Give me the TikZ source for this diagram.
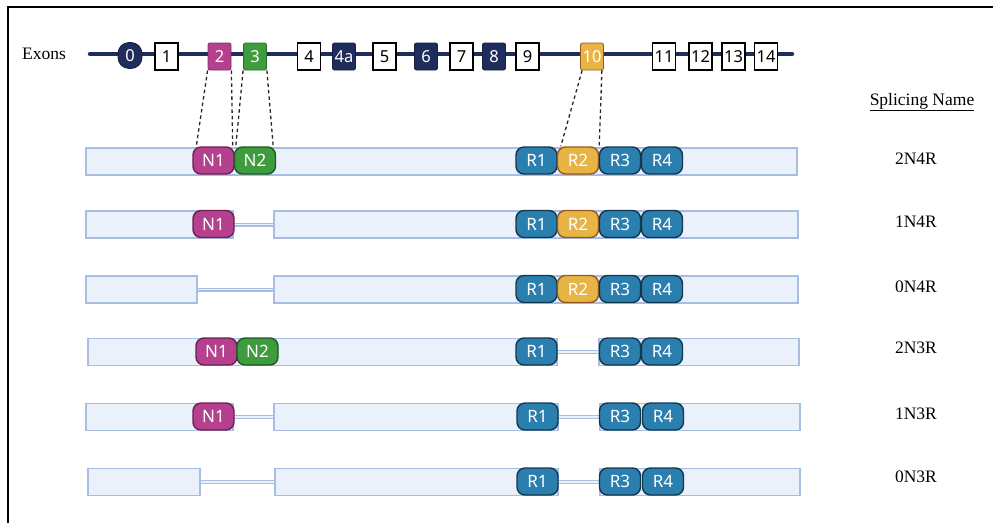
\documentclass[tikz,border=0pt]{standalone}
\usepackage{fontspec}
\setmainfont{Liberation Serif}
\newfontfamily\pillfont{Noto Sans}
\definecolor{navy}{HTML}{1F2D5C}
\definecolor{magf}{HTML}{B5418E}
\definecolor{magd}{HTML}{6E1E55}
\definecolor{grnf}{HTML}{3E9B3E}
\definecolor{grnd}{HTML}{1E5A24}
\definecolor{bluf}{HTML}{2B7FAF}
\definecolor{blud}{HTML}{12384F}
\definecolor{yelf}{HTML}{E8B445}
\definecolor{yeld}{HTML}{96581F}
\definecolor{txf}{HTML}{EAF1FB}
\definecolor{txd}{HTML}{A8BDE3}
\tikzset{
  exonw/.style={draw=black, line width=1.4pt, fill=white, minimum width=23pt, minimum height=27pt, inner sep=0pt, font=\pillfont\fontsize{16.5}{16.5}\selectfont},
  exonc/.style={draw=#1!70!black, line width=0.8pt, fill=#1, text=white, rounded corners=2pt, minimum width=23pt, minimum height=27pt, inner sep=0pt, font=\pillfont\fontsize{16.5}{16.5}\selectfont},
  pill/.style args={#1/#2}{draw=#2, fill=#1, line width=1.4pt, rounded corners=8pt, text=white, minimum width=41pt, minimum height=27pt, inner sep=0pt, font=\pillfont\fontsize{17}{17}\selectfont},
  npill1/.style={pill=magf/magd},
  npill2/.style={pill=grnf/grnd},
  rpill/.style={pill=bluf/blud},
  ypill/.style={pill=yelf/yeld},
  tx/.style={draw=txd, fill=txf, line width=1.7pt, minimum height=27pt, inner sep=0pt},
  intron/.style={draw=txd, double=txf, double distance=1.6pt, line width=1.2pt},
  lbl/.style={font=\fontsize{17.5}{17.5}\selectfont, inner sep=0pt},
  dashl/.style={draw=black!85, dashed, dash pattern=on 3.5pt off 3pt, line width=1.3pt},
}
\begin{document}
\begin{tikzpicture}[x=1pt,y=-1pt]
\useasboundingbox (0,0) rectangle (993,523);
% frame
\coordinate (fr1) at (993,7);
\coordinate (fr2) at (8,7);
\coordinate (fr3) at (8,523);
\draw[line width=1.8pt] (fr1) -- (fr2) -- (fr3);

% labels
\node[lbl, anchor=west] (exlbl) at (22,54) {Exons};
\node[lbl] (sname) at (922,102) {\underline{Splicing Name}};
\node[lbl] (n1) at (916,159) {2N4R};
\node[lbl] (n2) at (916,222) {1N4R};
\node[lbl] (n3) at (916,287) {0N4R};
\node[lbl] (n4) at (916,348) {2N3R};
\node[lbl] (n5) at (916,414) {1N3R};
\node[lbl] (n6) at (916,477) {0N3R};

% backbone
\coordinate (bb1) at (90,54);
\coordinate (bb2) at (792,54);
\draw[navy, line width=4.5pt, line cap=round] (bb1) -- (bb2);

% exons
\node[draw=navy!70!black, line width=0.8pt, fill=navy, text=white, rounded corners=11pt, minimum width=24pt, minimum height=26pt, inner sep=0pt, font=\pillfont\fontsize{16.5}{16.5}\selectfont] (e0) at (130,55.5) {0};
\node[exonw] (e1) at (166.5,56.5) {1};
\node[exonc=magf] (e2) at (219.5,56.5) {2};
\node[exonc=grnf] (e3) at (255,56.5) {3};
\node[exonw] (e4) at (309,56.5) {4};
\node[exonc=navy] (e4a) at (344,56.5) {4a};
\node[exonw] (e5) at (384.5,56.5) {5};
\node[exonc=navy] (e6) at (426,56.5) {6};
\node[exonw] (e7) at (461.5,56.5) {7};
\node[exonc=navy] (e8) at (494,56.5) {8};
\node[exonw] (e9) at (527.5,56.5) {9};
\node[exonc=yelf, draw=yeld] (e10) at (592,56.5) {10};
\node[exonw] (e11) at (664,56.5) {11};
\node[exonw] (e12) at (700.5,56.5) {12};
\node[exonw] (e13) at (733.5,56.5) {13};
\node[exonw] (e14) at (766,56.5) {14};

% Row 1: 2N4R
\node[tx, minimum width=711pt] (t1a) at (441.5,161.5) {};
% Row 2: 1N4R
\node[tx, minimum width=147pt] (t2a) at (159.5,224.5) {};
\node[tx, minimum width=524pt] (t2b) at (536,224.5) {};
\draw[intron] (t2a.east) -- (t2b.west);
% Row 3: 0N4R
\node[tx, minimum width=111pt] (t3a) at (141.5,289.5) {};
\node[tx, minimum width=524pt] (t3b) at (536,289.5) {};
\draw[intron] (t3a.east) -- (t3b.west);
% Row 4: 2N3R
\node[tx, minimum width=469pt] (t4a) at (322.5,352) {};
\node[tx, minimum width=200pt] (t4b) at (699,352) {};
\draw[intron] (t4a.east) -- (t4b.west);
% Row 5: 1N3R
\node[tx, minimum width=147pt] (t5a) at (159.5,417) {};
\node[tx, minimum width=284pt] (t5b) at (416,417) {};
\node[tx, minimum width=200pt] (t5c) at (700,417) {};
\draw[intron] (t5a.east) -- (t5b.west);
\draw[intron] (t5b.east) -- (t5c.west);
% Row 6: 0N3R
\node[tx, minimum width=112pt] (t6a) at (144,482) {};
\node[tx, minimum width=283pt] (t6b) at (416.5,482) {};
\node[tx, minimum width=200pt] (t6c) at (700,482) {};
\draw[intron] (t6a.east) -- (t6b.west);
\draw[intron] (t6b.east) -- (t6c.west);

% pills row 1
\node[npill1] (p1n1) at (213.5,160.5) {N1};
\node[npill2] (p1n2) at (255,160.5) {N2};
\node[rpill] (p1r1) at (536.5,160.5) {R1};
\node[ypill] (p1r2) at (578,160.5) {R2};
\node[rpill] (p1r3) at (620,160.5) {R3};
\node[rpill] (p1r4) at (662,160.5) {R4};
% row 2
\node[npill1] (p2n1) at (213.5,224) {N1};
\node[rpill] (p2r1) at (536.5,224) {R1};
\node[ypill] (p2r2) at (578,224) {R2};
\node[rpill] (p2r3) at (620,224) {R3};
\node[rpill] (p2r4) at (662,224) {R4};
% row 3
\node[rpill] (p3r1) at (536.5,289) {R1};
\node[ypill] (p3r2) at (578,289) {R2};
\node[rpill] (p3r3) at (620,289) {R3};
\node[rpill] (p3r4) at (662,289) {R4};
% row 4
\node[npill1] (p4n1) at (216.5,351.5) {N1};
\node[npill2] (p4n2) at (257.5,351.5) {N2};
\node[rpill] (p4r1) at (536.5,351.5) {R1};
\node[rpill] (p4r3) at (620,351.5) {R3};
\node[rpill] (p4r4) at (662,351.5) {R4};
% row 5
\node[npill1] (p5n1) at (213.5,416.5) {N1};
\node[rpill] (p5r1) at (537.5,416.5) {R1};
\node[rpill] (p5r3) at (620,416.5) {R3};
\node[rpill] (p5r4) at (663,416.5) {R4};
% row 6
\node[rpill] (p6r1) at (537.5,481.5) {R1};
\node[rpill] (p6r3) at (620,481.5) {R3};
\node[rpill] (p6r4) at (663,481.5) {R4};

% dashed mapping lines
\draw[dashl] (e2.south west) -- ([xshift=4pt]p1n1.north west);
\draw[dashl] (e2.south east) -- ([xshift=-2pt]p1n1.north east);
\draw[dashl] (e3.south west) -- ([xshift=2pt]p1n2.north west);
\draw[dashl] (e3.south east) -- ([xshift=-3pt]p1n2.north east);
\draw[dashl] ([xshift=2pt]e10.south west) -- ([xshift=4pt]p1r2.north west);
\draw[dashl] ([xshift=-2pt]e10.south east) -- ([xshift=0pt]p1r2.north east);
\end{tikzpicture}
\end{document}
